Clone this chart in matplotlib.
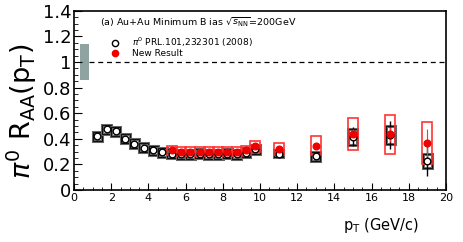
import matplotlib.pyplot as plt
from matplotlib.patches import Rectangle
from matplotlib.lines import Line2D

# PRL.101,232301 (2008)
old_pt = [1.25, 1.75, 2.25, 2.75, 3.25, 3.75, 4.25, 4.75, 5.25, 5.75, 6.25, 6.75,
          7.25, 7.75, 8.25, 8.75, 9.25, 9.75, 11, 13, 15, 17, 19]
old_raa = [0.42, 0.475, 0.46, 0.40, 0.36, 0.33, 0.31, 0.295, 0.285, 0.28, 0.28, 0.285,
           0.28, 0.28, 0.285, 0.28, 0.29, 0.32, 0.285, 0.265, 0.415, 0.43, 0.23]
old_stat = [0.005] * 18 + [0.01, 0.02, 0.075, 0.11, 0.12]
old_sys = [0.035] * 18 + [0.03, 0.035, 0.06, 0.07, 0.055]

# new result
new_pt = [5.25, 5.75, 6.25, 6.75, 7.25, 7.75, 8.25, 8.75, 9.25, 9.75, 11, 13, 15, 17, 19]
new_raa = [0.31, 0.30, 0.30, 0.30, 0.30, 0.30, 0.30, 0.30, 0.31, 0.34, 0.32, 0.345,
           0.44, 0.435, 0.37]
new_stat = [0.005] * 10 + [0.01, 0.015, 0.04, 0.06, 0.11]
new_sys = [0.035] * 9 + [0.04, 0.05, 0.075, 0.125, 0.155, 0.165]

# global normalisation band
norm_x = 0.55
norm_err = 0.14

fig = plt.figure(figsize=(4.63, 2.42), dpi=100)
ax = fig.add_axes([0.16, 0.215, 0.803, 0.74])

ax.add_patch(Rectangle((norm_x - 0.25, 1 - norm_err), 0.5, 2 * norm_err,
                       facecolor='#8fa3a0', edgecolor='none'))
ax.plot([norm_x + 0.25, 20], [1, 1], 'k--', lw=0.9, dashes=(4, 3))

for x, y, s in zip(old_pt, old_raa, old_sys):
    ax.add_patch(Rectangle((x - 0.24, y - s), 0.48, 2 * s, facecolor='none',
                           edgecolor='#666666', lw=2.2, zorder=2))
    ax.add_patch(Rectangle((x - 0.24, y - s), 0.48, 2 * s, facecolor='none',
                           edgecolor='black', lw=0.6, zorder=2))
for x, y, s in zip(new_pt, new_raa, new_sys):
    ax.add_patch(Rectangle((x - 0.27, y - s), 0.54, 2 * s, facecolor='none',
                           edgecolor='#ff3333', lw=1.2, zorder=3))

ax.errorbar(old_pt, old_raa, yerr=old_stat, fmt='none', ecolor='black', lw=1.0, zorder=4)
ax.errorbar(new_pt, new_raa, yerr=new_stat, fmt='none', ecolor='#ff3333', lw=0.8, zorder=5)
ax.plot(old_pt, old_raa, 'o', mfc='white', mec='black', ms=4.8, mew=1.0, zorder=6)
ax.plot(new_pt, new_raa, 'o', color='#ee0000', ms=4.8, zorder=7)

ax.set_xlim(0, 20)
ax.set_ylim(0, 1.4)
ax.set_xticks(range(0, 21, 2))
ax.set_xticks([i * 0.5 for i in range(41)], minor=True)
ax.set_yticks([0, 0.2, 0.4, 0.6, 0.8, 1.0, 1.2, 1.4])
ax.set_yticklabels(['0', '0.2', '0.4', '0.6', '0.8', '1', '1.2', '1.4'])
ax.set_yticks([i * 0.05 for i in range(29)], minor=True)
ax.tick_params(which='both', direction='in', top=False, right=False)
ax.tick_params(axis='x', which='major', length=5, labelsize=8, pad=2)
ax.tick_params(axis='x', which='minor', length=2.5)
ax.tick_params(axis='y', which='major', length=6, labelsize=13, pad=2)
ax.tick_params(axis='y', which='minor', length=3)
for sp in ax.spines.values():
    sp.set_linewidth(1.2)

ax.text(0.07, 0.935, r'(a) Au+Au Minimum B ias $\sqrt{s_{\rm NN}}$=200GeV',
        transform=ax.transAxes, fontsize=6.8, va='center')

handles = [Line2D([], [], ls='none', marker='o', mfc='white', mec='black', ms=4.5, mew=1.0),
           Line2D([], [], ls='none', marker='o', color='#ee0000', ms=4.5)]
ax.legend(handles, [r'$\pi^0$ PRL.101,232301 (2008)', 'New Result'],
          loc='upper left', bbox_to_anchor=(0.085, 0.885), frameon=False,
          fontsize=6.5, handletextpad=1.4, labelspacing=0.0, borderpad=0,
          handlelength=1.0)

fig.text(0.048, 0.54, r'$\pi^0$ R$_{\rm AA}$(p$_{\rm T}$)', rotation=90,
         fontsize=19.5, ha='center', va='center')
fig.text(0.905, 0.07, r'p$_{\rm T}$ (GeV/c)', fontsize=10.5, ha='right', va='center')

fig.savefig('out.png', dpi=100)
